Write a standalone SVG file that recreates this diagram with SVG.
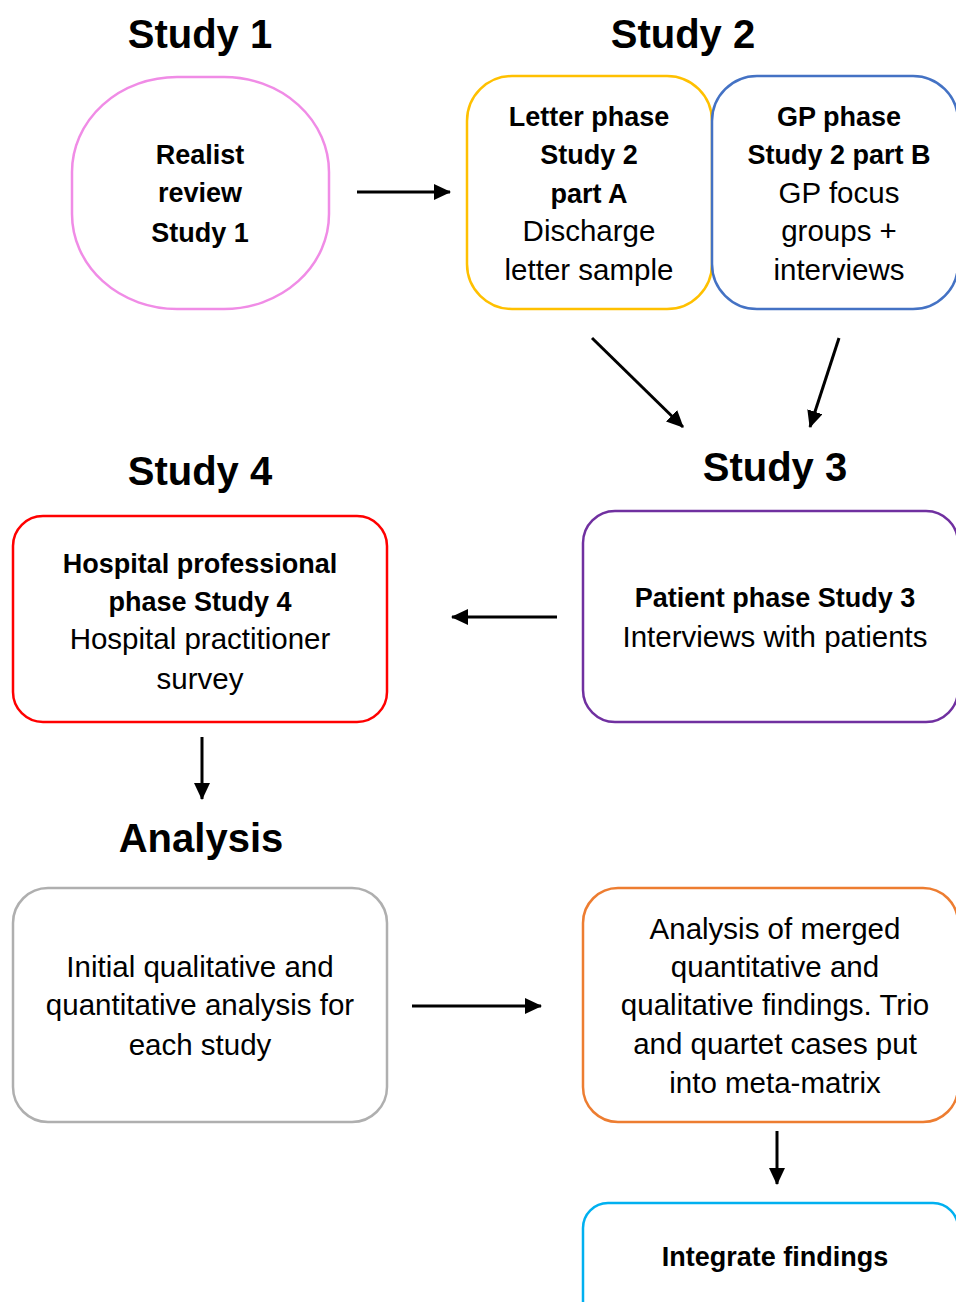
<svg xmlns="http://www.w3.org/2000/svg" width="956" height="1302" viewBox="0 0 956 1302">
<style>
.t{font-family:"Liberation Sans",Arial,sans-serif;text-anchor:middle;fill:#000}
.h{font-size:40px;font-weight:bold}
.b{font-size:27px;font-weight:bold}
.r{font-size:29.5px}
.box{fill:#fff;stroke-width:2.5}
.c{stroke:#000;stroke-width:3;fill:none;marker-end:url(#ah)}
</style>
<defs>
<marker id="ah" markerUnits="userSpaceOnUse" markerWidth="18" markerHeight="16" refX="16" refY="8" orient="auto">
<path d="M0,0 L17,8 L0,16 z" fill="#000"/>
</marker>
</defs>
<rect width="956" height="1302" fill="#fff"/>
<g id="titles">
<text class="t h" x="200" y="48">Study 1</text>
<text class="t h" x="683" y="48">Study 2</text>
<text class="t h" x="200" y="485">Study 4</text>
<text class="t h" x="775" y="481">Study 3</text>
<text class="t h" x="201" y="852">Analysis</text>
</g>
<g id="study1">
<rect class="box" x="72" y="77" width="257" height="232" rx="105" ry="95" stroke="#F08CE6"/>
<text class="t b" x="200" y="164">Realist</text>
<text class="t b" x="200" y="202">review</text>
<text class="t b" x="200" y="242">Study 1</text>
</g>
<g id="letter">
<rect class="box" x="467" y="76" width="245" height="233" rx="45" stroke="#FFC000"/>
<text class="t b" x="589" y="126">Letter phase</text>
<text class="t b" x="589" y="164">Study 2</text>
<text class="t b" x="589" y="203">part A</text>
<text class="t r" x="589" y="241">Discharge</text>
<text class="t r" x="589" y="280">letter sample</text>
</g>
<g id="gp">
<rect class="box" x="712" y="76" width="246" height="233" rx="45" stroke="#4472C4"/>
<text class="t b" x="839" y="126">GP phase</text>
<text class="t b" x="839" y="164">Study 2 part B</text>
<text class="t r" x="839" y="203">GP focus</text>
<text class="t r" x="839" y="241">groups +</text>
<text class="t r" x="839" y="280">interviews</text>
</g>
<g id="study4">
<rect class="box" x="13" y="516" width="374" height="206" rx="30" stroke="#FF0000"/>
<text class="t b" x="200" y="573">Hospital professional</text>
<text class="t b" x="200" y="611">phase Study 4</text>
<text class="t r" x="200" y="649">Hospital practitioner</text>
<text class="t r" x="200" y="689">survey</text>
</g>
<g id="study3">
<rect class="box" x="583" y="511" width="375" height="211" rx="32" stroke="#7030A0"/>
<text class="t b" x="775" y="607">Patient phase Study 3</text>
<text class="t r" x="775" y="647">Interviews with patients</text>
</g>
<g id="initial">
<rect class="box" x="13" y="888" width="374" height="234" rx="35" stroke="#AFAFAF"/>
<text class="t r" x="200" y="977">Initial qualitative and</text>
<text class="t r" x="200" y="1015">quantitative analysis for</text>
<text class="t r" x="200" y="1055">each study</text>
</g>
<g id="merged">
<rect class="box" x="583" y="888" width="375" height="234" rx="35" stroke="#ED7D31"/>
<text class="t r" x="775" y="939">Analysis of merged</text>
<text class="t r" x="775" y="977">quantitative and</text>
<text class="t r" x="775" y="1015">qualitative findings. Trio</text>
<text class="t r" x="775" y="1054">and quartet cases put</text>
<text class="t r" x="775" y="1093">into meta-matrix</text>
</g>
<g id="integrate">
<rect class="box" x="583" y="1203" width="375" height="130" rx="25" stroke="#00B0F0"/>
<text class="t b" x="775" y="1266">Integrate findings</text>
</g>
<g id="connectors">
<line class="c" x1="357" y1="192" x2="450" y2="192"/>
<line class="c" x1="592" y1="338" x2="683" y2="427"/>
<line class="c" x1="839" y1="338" x2="810" y2="427"/>
<line class="c" x1="557" y1="617" x2="452" y2="617"/>
<line class="c" x1="202" y1="737" x2="202" y2="799"/>
<line class="c" x1="412" y1="1006" x2="541" y2="1006"/>
<line class="c" x1="777" y1="1131" x2="777" y2="1184"/>
</g>
</svg>
